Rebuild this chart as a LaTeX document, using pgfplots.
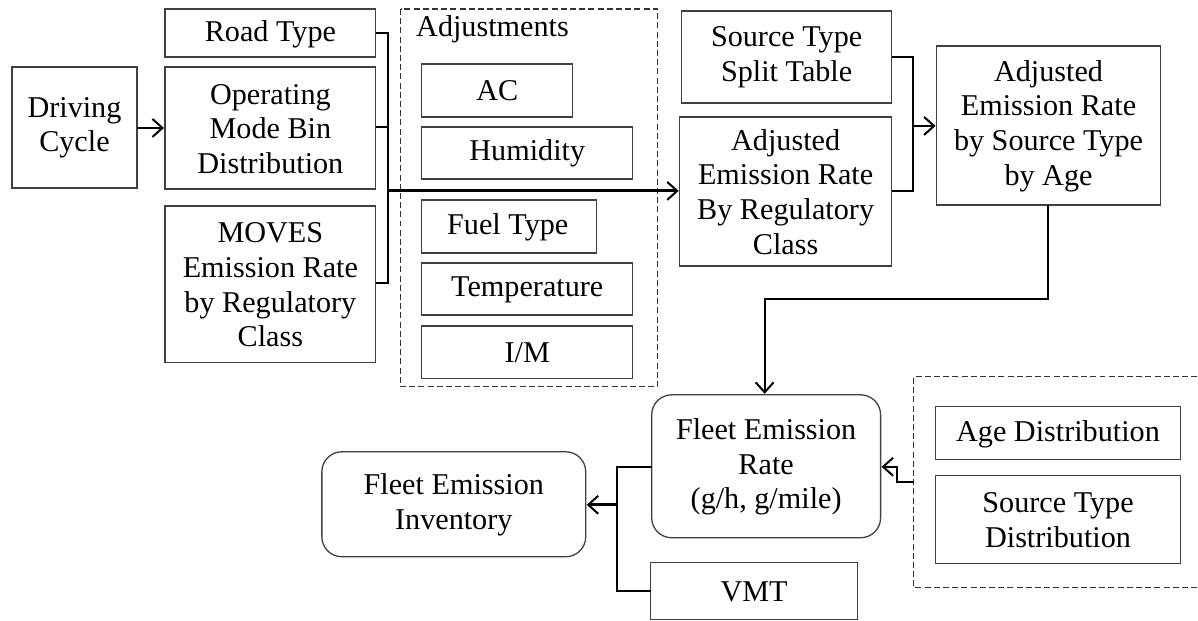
\documentclass[border=0pt]{standalone}
\usepackage{pgfplots}
\pgfplotsset{compat=1.18}
\usepackage{fontspec}
\setmainfont{Liberation Serif}
\usetikzlibrary{arrows.meta}
\newcommand\fs{\fontsize{15.1}{17.3}\selectfont}
\begin{document}
\begin{tikzpicture}[
  bx/.style={draw=black!75, line width=0.65pt},
  rb/.style={draw=black!75, line width=0.65pt, rounded corners=10pt},
  dsh/.style={draw=black!80, line width=0.55pt, dash pattern=on 3pt off 1.6pt},
  cn/.style={line width=1pt, black},
  thk/.style={line width=1.5pt, black},
  arr/.style={-{Straight Barb[length=5pt,width=9pt,line width=1pt]}},
  tx/.style={align=center, font=\fs, inner sep=0pt}
]
\begin{axis}[width=599pt, height=310.5pt, scale only axis,
  xmin=0, xmax=1198, ymin=0, ymax=621, y dir=reverse,
  hide axis, clip=false]
\path (0,0) rectangle (1198,621);
% dashed groups
\draw[dsh] (401,9) rectangle (658,387);
\draw[dsh] (1198,377) -- (914,377) -- (914,588) -- (1198,588);
% boxes
\draw[bx] (12,67) rectangle (137,188);
\node[tx] at (74.5,128) {Driving\\Cycle};
\draw[bx] (165,9) rectangle (376,57);
\node[tx] at (270.5,34) {Road Type};
\draw[bx] (165,67) rectangle (376,189);
\node[tx] at (270.5,129) {Operating\\Mode Bin\\Distribution};
\draw[bx] (165,206) rectangle (376,363);
\node[tx] at (270.5,285) {MOVES\\Emission Rate\\by Regulatory\\Class};
\node[tx, anchor=west] at (416,29) {Adjustments};
\draw[bx] (422,64) rectangle (573,117);
\node[tx] at (497.5,91) {AC};
\draw[bx] (422,127) rectangle (633,179);
\node[tx] at (527.5,153.5) {Humidity};
\draw[bx] (422,200) rectangle (597,253);
\node[tx] at (508,227) {Fuel Type};
\draw[bx] (422,263) rectangle (633,315);
\node[tx] at (527.5,289.5) {Temperature};
\draw[bx] (422,326) rectangle (633,379);
\node[tx] at (527.5,353) {I/M};
\draw[bx] (682,11) rectangle (892,103);
\node[tx] at (787,57.5) {Source Type\\Split Table};
\draw[bx] (680,117) rectangle (892,266);
\node[tx] at (786,192) {Adjusted\\Emission Rate\\By Regulatory\\Class};
\draw[bx] (937,46) rectangle (1161,205);
\node[tx] at (1049,126) {Adjusted\\Emission Rate\\by Source Type\\by Age};
\draw[rb] (652,395) rectangle (881,538);
\node[tx] at (766.5,467) {Fleet Emission\\Rate\\(g/h, g/mile)};
\draw[bx] (936,407) rectangle (1181,460);
\node[tx] at (1058.5,434) {Age Distribution};
\draw[bx] (936,476) rectangle (1181,564);
\node[tx] at (1058.5,520.5) {Source Type\\Distribution};
\draw[rb] (322,452) rectangle (586,557);
\node[tx] at (454,505) {Fleet Emission\\Inventory};
\draw[bx] (651,563) rectangle (858,620);
\node[tx] at (754.5,592) {VMT};
% connectors
\draw[cn, arr] (137,128) -- (164,128);
\draw[cn] (376,33) -- (388,33) -- (388,283) -- (376,283);
\draw[cn] (376,127) -- (388,127);
\draw[thk, arr] (388,191) -- (679,191);
\draw[cn] (892,57) -- (913,57) -- (913,191) -- (892,191);
\draw[cn, arr] (913,126) -- (936,126);
\draw[cn, arr] (1048,205) -- (1048,299) -- (765,299) -- (765,394);
\draw[cn, arr] (914,482) -- (897,482) -- (897,467) -- (882,467);
\draw[cn] (652,467) -- (617,467) -- (617,591) -- (651,591);
\draw[thk, arr] (617,505) -- (587,505);
\end{axis}
\end{tikzpicture}
\end{document}
